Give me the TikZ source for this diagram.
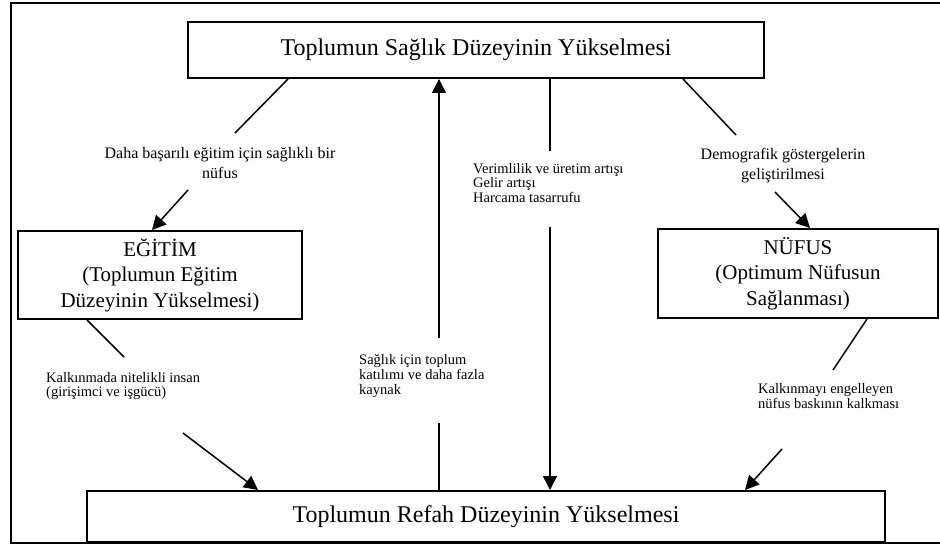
\documentclass[tikz,border=0pt]{standalone}
\usepackage{fontspec}
\setmainfont{Liberation Serif}
\usetikzlibrary{arrows.meta,calc}
\begin{document}
\begin{tikzpicture}[x=1pt,y=-1pt,
  box/.style={draw,line width=2pt,inner sep=0pt,align=center},
  bigtxt/.style={font=\fontsize{24}{28}\selectfont},
  midtxt/.style={font=\fontsize{21}{25.5}\selectfont},
  conn/.style={line width=1.5pt},
  arr/.style={line width=1.5pt,-{Triangle[length=14pt,width=14pt]}},
  lbl/.style={inner sep=0pt,anchor=west,align=left,font=\fontsize{14.5}{14.7}\selectfont},
  lblc/.style={inner sep=0pt,align=center,font=\fontsize{16}{19.5}\selectfont},
  frame/.style={line width=1.6pt}]
\useasboundingbox (0,0) rectangle (940,545);
% outer frame (right side runs off the picture)
\draw[frame] (960,3) -- (11,3) -- (11,543) -- (960,543);
% boxes
\node[box,bigtxt,minimum width=576,minimum height=56] (top) at (476,50) {Toplumun Sağlık Düzeyinin Yükselmesi};
\node[box,midtxt,minimum width=284,minimum height=88] (edu) at (160,275) {EĞİTİM\\(Toplumun Eğitim\\Düzeyinin Yükselmesi)};
\node[box,midtxt,minimum width=280,minimum height=89] (nuf) at (798,273.5) {NÜFUS\\(Optimum Nüfusun\\Sağlanması)};
\node[box,bigtxt,minimum width=798,minimum height=51] (bot) at (486,516.5) {Toplumun Refah Düzeyinin Yükselmesi};
% labels
\node[lblc] (l1) at (220,163) {Daha başarılı eğitim için sağlıklı bir\\nüfus};
\node[lbl] (l2) at (359,376) {Sağlık için toplum\\katılımı ve daha fazla\\kaynak};
\node[lbl] (l3) at (473,183) {Verimlilik ve üretim artışı\\Gelir artışı\\Harcama tasarrufu};
\node[lblc] (l4) at (783,165.5) {Demografik göstergelerin\\geliştirilmesi};
\node[lbl] (l5) at (46,386) {Kalkınmada nitelikli insan\\(girişimci ve işgücü)};
\node[lbl] (l6) at (758,396) {Kalkınmayı engelleyen\\nüfus baskının kalkması};
% free ends of connectors
\coordinate (a1) at (235,133); \coordinate (a1s) at (188,190);
\coordinate (v1a) at (439,338); \coordinate (v1b) at (439,423);
\coordinate (v2a) at (550,151); \coordinate (v2b) at (550,227);
\coordinate (a4) at (736,135); \coordinate (a4s) at (775,192);
\coordinate (a5) at (124,357); \coordinate (a5s) at (183,433);
\coordinate (a6) at (833,370); \coordinate (a6s) at (782,449);
% connectors
\draw[conn] ($(top.south)+(-188,0)$) -- (a1);
\draw[arr] (a1s) -- ($(edu.north)+(-8,0)$);
\draw[arr] (v1a) -- (top.south -| v1a);
\draw[conn] (bot.north -| v1b) -- (v1b);
\draw[conn] (top.south -| v2a) -- (v2a);
\draw[arr] (v2b) -- (bot.north -| v2b);
\draw[conn] ($(top.south)+(207,0)$) -- (a4);
\draw[arr] (a4s) -- ($(nuf.north)+(12,0)$);
\draw[conn] ($(edu.south)+(-73,0)$) -- (a5);
\draw[arr] (a5s) -- ($(bot.north)+(-228,0)$);
\draw[conn] ($(nuf.south)+(69,0)$) -- (a6);
\draw[arr] (a6s) -- ($(bot.north)+(259,0)$);
\end{tikzpicture}
\end{document}
